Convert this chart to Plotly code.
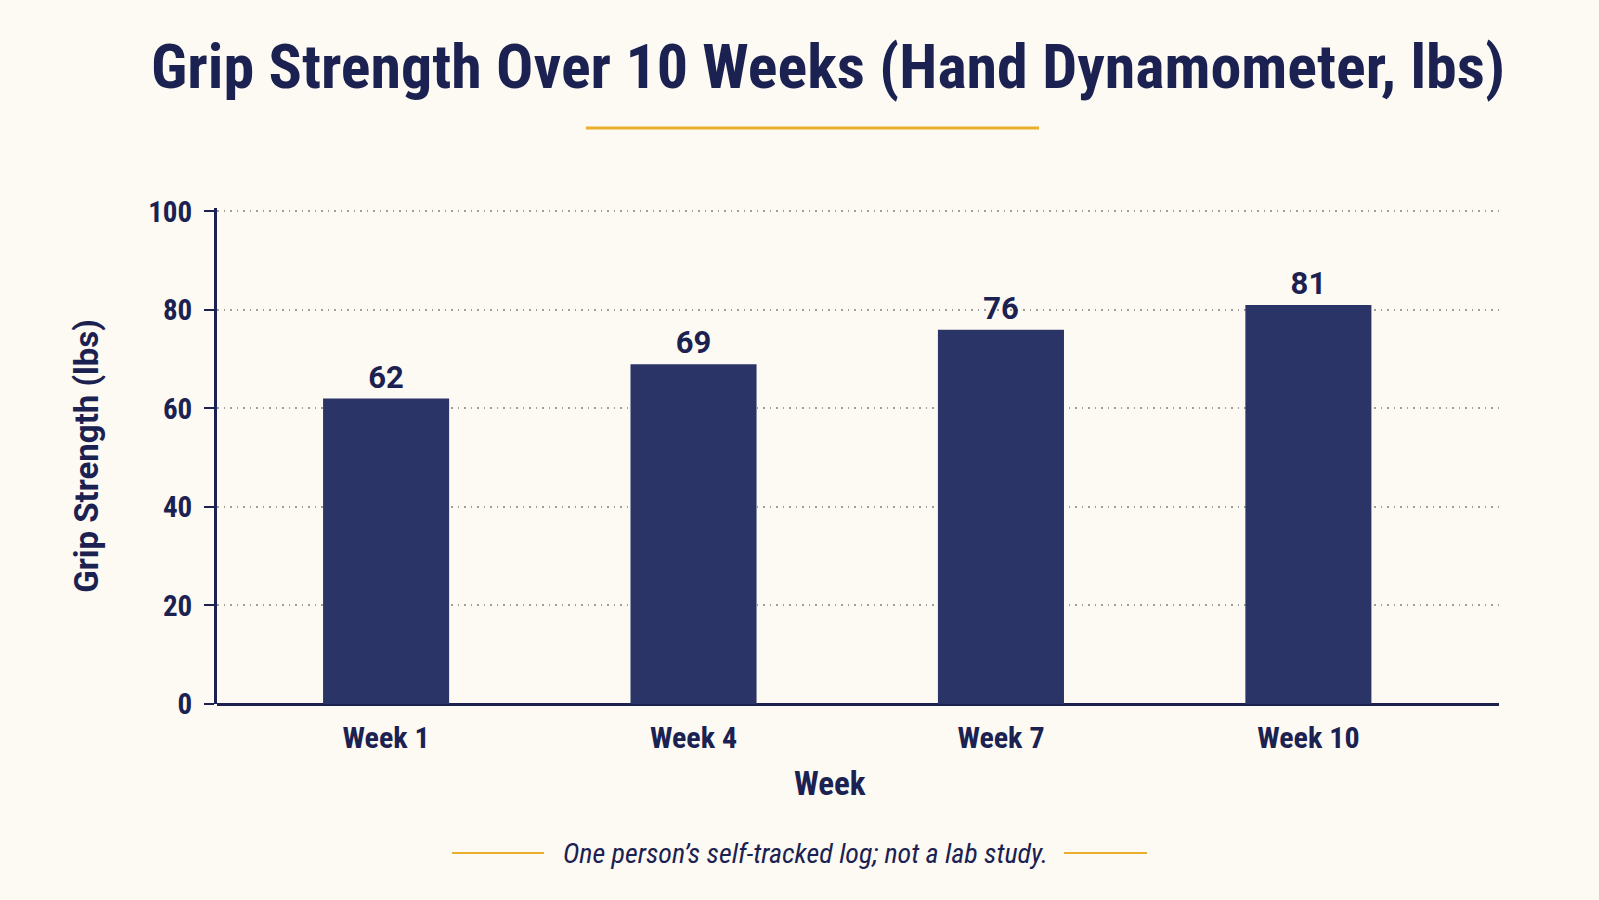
import plotly.graph_objects as go

# data
weeks = ["Week 1", "Week 4", "Week 7", "Week 10"]
grip_lbs = [62, 69, 76, 81]
y_ticks = [0, 20, 40, 60, 80, 100]

NAVY = "#1B2150"
BAR = "#2B3467"
GOLD = "#E8AE2C"
BG = "#FCFAF3"
NARROW = "Roboto Condensed, DejaVu Sans Condensed, sans-serif"
WIDE = "Roboto, Inter, sans-serif"

# plot area in page pixels
L, R, T, B = 217, 1499, 208, 704
PW, PH = R - L, B - T


def px(x):
    return (x - L) / PW


def py(y):
    return (B - y) / PH


fig = go.Figure()

fig.add_trace(
    go.Bar(
        x=weeks,
        y=grip_lbs,
        width=0.41,
        marker=dict(color=BAR, line_width=0),
        texttemplate="<b>%{y}</b>",
        textposition="outside",
        cliponaxis=False,
        textfont=dict(size=31, color=NAVY, family=WIDE),
        hoverinfo="skip",
    )
)

# title underline
fig.add_shape(
    type="line", xref="paper", yref="paper",
    x0=px(586), x1=px(1039), y0=py(128), y1=py(128),
    line=dict(color=GOLD, width=3),
)

# x axis title (sits a little left of the plot centre)
fig.add_annotation(
    xref="paper", yref="paper",
    x=px(830), y=py(783),
    text="<b>Week</b>",
    showarrow=False, xanchor="center", yanchor="middle",
    font=dict(size=33, color=NAVY, family=NARROW),
)

# footer note with gold dashes either side
fig.add_annotation(
    xref="paper", yref="paper",
    x=px(805), y=py(853),
    text="<i>One person\u2019s self-tracked log; not a lab study.</i>",
    showarrow=False, xanchor="center", yanchor="middle",
    font=dict(size=28, color=NAVY, family=NARROW),
)
for x0, x1 in [(452, 544), (1064, 1147)]:
    fig.add_shape(
        type="line", xref="paper", yref="paper",
        x0=px(x0), x1=px(x1), y0=py(853), y1=py(853),
        line=dict(color=GOLD, width=2),
    )

fig.update_layout(
    width=1599,
    height=900,
    margin=dict(l=L, r=1599 - R, t=T, b=900 - B),
    paper_bgcolor=BG,
    plot_bgcolor=BG,
    showlegend=False,
    title=dict(
        text="<b>Grip Strength Over 10 Weeks (Hand Dynamometer, lbs)</b>",
        x=828 / 1599, xanchor="center",
        y=1 - 66 / 900, yanchor="middle",
        font=dict(size=62, color=NAVY, family=NARROW),
    ),
    xaxis=dict(
        range=[-0.55, 3.62],
        tickvals=weeks,
        ticktext=[f"<b>{w}</b>" for w in weeks],
        showline=False,
        ticks="outside",
        ticklen=7,
        tickcolor="rgba(0,0,0,0)",
        tickfont=dict(size=30, color=NAVY, family=NARROW),
        showgrid=False,
        zeroline=False,
    ),
    yaxis=dict(
        range=[0, 100.7],
        tickvals=y_ticks,
        ticktext=[f"<b>{t}</b>" for t in y_ticks],
        showline=True,
        linecolor=NAVY,
        linewidth=3,
        ticks="outside",
        ticklen=10,
        tickwidth=2,
        tickcolor=NAVY,
        ticklabelstandoff=6,
        tickfont=dict(size=29, color=NAVY, family=NARROW),
        title=dict(text="<b>Grip Strength (lbs)</b>", font=dict(size=33, color=NAVY, family=WIDE), standoff=40),
        showgrid=True,
        gridcolor="#9E9E9E",
        griddash="1.5px,5px",
        gridwidth=1.5,
        zeroline=True,
        zerolinecolor=NAVY,
        zerolinewidth=3,
    ),
)

fig.write_html(
    "out.html",
    config={"displayModeBar": False},
    post_script="document.body.style.margin='0';",
)
